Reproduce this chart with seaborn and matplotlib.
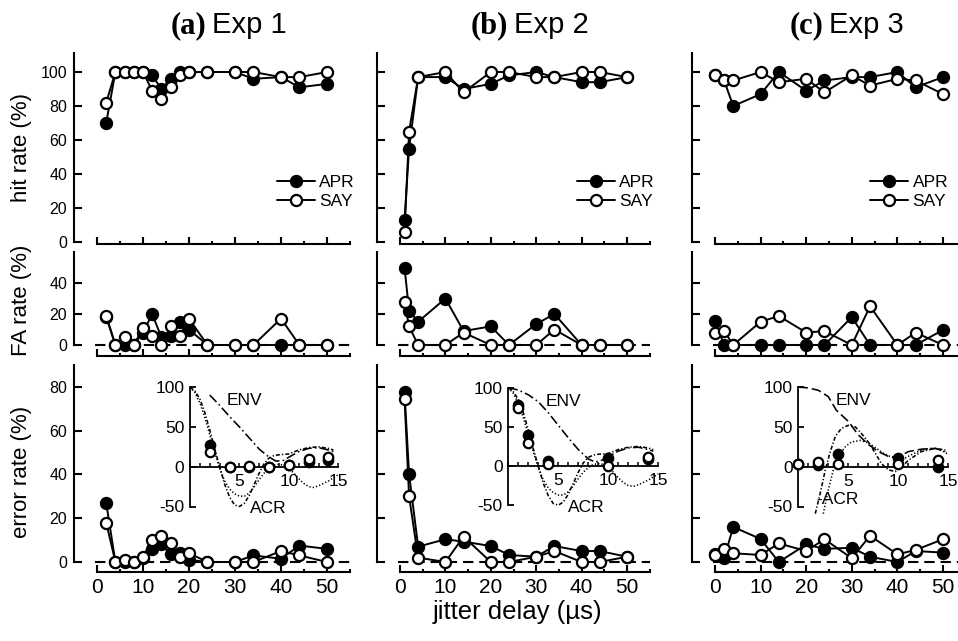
import matplotlib
matplotlib.use('Agg')
import matplotlib.pyplot as plt
import matplotlib.transforms as mtransforms
from matplotlib.ticker import FixedLocator, MultipleLocator
import seaborn as sns

# ---------------- data ----------------
x1 = [2, 4, 6, 8, 10, 12, 14, 16, 18, 20, 24, 30, 34, 40, 44, 50]
hit1_apr = [70, 100, 100, 100, 100, 98, 90, 96, 100, 100, 100, 100, 96, 97, 91, 93]
hit1_say = [82, 100, 100, 100, 100, 89, 84, 91, 98, 100, 100, 100, 100, 97, 97, 100]
fa1_apr = [18, 0, 0, 0, 8, 20, 5, 6, 15, 10, 0, 0, 0, 0, 0, 0]
fa1_say = [19, 0, 5, 0, 11, 6, 0, 12, 6, 17, 0, 0, 0, 17, 0, 0]
err1_apr = [27, 0, 0, 0, 2, 6, 8, 3.5, 4, 1, 0, 0, 3, 1.5, 7.5, 6]
err1_say = [18, 0, 1, 0, 2.5, 10, 12, 8.5, 2.5, 4, 0, 0, 0, 5, 3, 0]

x2 = [1, 2, 4, 10, 14, 20, 24, 30, 34, 40, 44, 50]
hit2_apr = [13, 55, 97, 97, 90, 93, 98, 100, 97, 94, 94, 97]
hit2_say = [6, 65, 97, 100, 88, 100, 100, 97, 97, 100, 100, 97]
fa2_apr = [50, 22, 15, 30, 9, 12, 0, 13.5, 20, 0, 0, 0]
fa2_say = [27.5, 12, 0, 0, 8, 0, 0, 0, 10, 0, 0, 0]
err2_apr = [77.5, 40, 7, 10.4, 9.3, 7.3, 3.2, 2.4, 7.3, 5, 5, 2.4]
err2_say = [74.5, 30, 2, 0, 11.6, 0, 0, 2.4, 5, 0, 0, 2.4]

x3 = [0, 2, 4, 10, 14, 20, 24, 30, 34, 40, 44, 50]
hit3_apr = [98, 95, 80, 87, 100, 89, 95, 97, 97, 100, 91, 97]
hit3_say = [98, 95, 95, 100, 94, 96, 88, 98, 92, 96, 95, 87]
fa3_apr = [15.5, 0, 0, 0, 0, 0, 0, 18, 0, 0, 0, 9.7]
fa3_say = [8, 9, 0, 15, 18.7, 8, 9, 0, 25, 0, 8, 0]
err3_apr = [3.5, 1.7, 16, 10.5, 0, 8, 6, 6.5, 2.4, 0, 5, 4.3]
err3_say = [3, 6, 4, 3.2, 8.5, 5, 10.4, 1.7, 12, 3.5, 5.5, 10.4]

# inset curves
env_a_x = [2, 3, 4, 5, 6, 7, 8, 8.7, 9.5, 10, 11, 12, 13, 14, 14.5]
env_a_y = [90, 77, 63, 50, 36, 22, 12, 7, 8, 12, 19, 23, 24, 21, 19]
env_b_x = [0, 1, 2, 3, 4, 5, 6, 7, 8, 8.7, 9.5, 10, 11, 12, 13, 14, 14.5]
env_b_y = [100, 97, 91, 82, 68, 52, 36, 21, 9, 5, 8, 12, 19, 23, 24, 21, 19]
acr1_x = [0, 0.5, 1, 1.5, 2, 2.5, 3, 3.5, 4, 4.5, 5, 5.5, 6, 6.5, 7, 7.5, 8, 8.5,
          9, 10, 11, 12, 13, 14, 14.5]
acr1_y = [100, 95, 85, 68, 46, 22, 0, -22, -38, -48, -50, -46, -36, -22, -8, 4, 11, 14,
          15, 16, 21, 24, 25, 23, 21]
acr2_x = [0, 0.5, 1, 1.5, 2, 2.5, 3, 3.5, 4, 4.5, 5, 5.5, 6, 6.5, 7, 7.5, 8, 8.5, 9,
          9.5, 10, 10.5, 11, 11.5, 12, 12.5, 13, 13.5, 14, 14.5, 15]
acr2_y = [100, 93, 80, 62, 40, 18, -2, -18, -28, -34, -37, -37, -33, -25, -16, -8, -2, 2, 3,
          2, -2, -8, -15, -21, -25, -26, -24, -21, -18, -14, -10]
env_c_x = [0, 1, 2, 3, 3.8, 5, 6, 7, 8, 9, 10, 11, 12.3, 13.7, 14.7]
env_c_y = [100, 99, 96, 88, 71, 57, 40, 28, 19, 13, 12, 19, 22, 23, 19]
nacr1_x = [1.7, 2.2, 2.7, 3.2, 3.7, 4.3, 5, 5.7, 6.3, 7, 7.7, 8.3, 9, 9.7, 10.3, 11,
           12.3, 13.7, 14.7]
nacr1_y = [-59, -33, -4, 19, 38, 48, 52, 50, 42, 31, 17, 4, -4, -6, -1, 8, 19, 23, 21]
nacr2_x = [2.5, 3, 3.5, 4, 4.7, 5.3, 6.2, 7, 7.7, 8.5, 9.3, 10, 10.7, 11.3, 12, 12.7,
           13.3, 14, 14.7, 15]
nacr2_y = [-59, -29, -4, 13, 25, 31, 33, 30, 24, 17, 12, 10, 11, 15, 19, 22, 23, 22, 18, 15]

panel_letters = ['(a)', '(b)', '(c)']
panel_titles = ['Exp 1', 'Exp 2', 'Exp 3']
row_labels = ['hit rate (%)', 'FA rate (%)', 'error rate (%)']
xlabel = 'jitter delay (\u00b5s)'

# ---------------- style ----------------
sns.set_theme(style='ticks', rc={
    'text.color': 'black', 'axes.labelcolor': 'black',
    'xtick.color': 'black', 'ytick.color': 'black',
    'axes.edgecolor': 'black', 'axes.unicode_minus': False})
plt.rcParams['font.family'] = ['Liberation Sans', 'DejaVu Sans']
plt.rcParams['axes.unicode_minus'] = False

W, H = 958, 641
fig = plt.figure(figsize=(W / 100, H / 100), dpi=100)
fig.patch.set_facecolor('white')


def px_axes(left, top, right, bottom):
    return fig.add_axes([left / W, 1 - bottom / H, (right - left) / W, (bottom - top) / H])


XL = (-5, 56)
cols = [(97, 4.6), (400, 4.54), (715, 4.56)]
rows = [(242, 1.7, (-1, 111), [0, 20, 40, 60, 80, 100]),
        (345, 1.55, (-6.8, 60), [0, 20, 40]),
        (562, 2.19, (-4.7, 90), [0, 20, 40, 60, 80])]

data = [
    [(hit1_apr, hit1_say), (fa1_apr, fa1_say), (err1_apr, err1_say)],
    [(hit2_apr, hit2_say), (fa2_apr, fa2_say), (err2_apr, err2_say)],
    [(hit3_apr, hit3_say), (fa3_apr, fa3_say), (err3_apr, err3_say)],
]
xs = [x1, x2, x3]

MS, MEW, LW = 8.0, 1.6, 1.4


def series(ax, x, y, filled, ms=MS, line=True, label=None, z=3):
    sns.lineplot(x=x, y=y, ax=ax, color='black', marker='o', markersize=ms,
                 markerfacecolor='black' if filled else 'white',
                 markeredgecolor='black', markeredgewidth=MEW,
                 linewidth=LW if line else 0, linestyle='-' if line else 'none',
                 estimator=None, sort=False, label=label, zorder=z, clip_on=False)
    return ax.lines[-1]


top_axes = []
for ci, (x0, sx) in enumerate(cols):
    for ri, (y0, sy, yl, yt) in enumerate(rows):
        left = x0 + XL[0] * sx
        right = x0 + XL[1] * sx
        top = y0 - yl[1] * sy
        bottom = y0 - yl[0] * sy
        ax = px_axes(left, top, right, bottom)
        ax.set_facecolor('none')
        apr, say = data[ci][ri]
        if ri > 0:
            ax.axhline(0, xmin=(-0.5 - XL[0]) / (XL[1] - XL[0]),
                       xmax=(55 - XL[0]) / (XL[1] - XL[0]),
                       color='black', lw=1.5, ls=(0, (5, 2.8)), zorder=1)
        h1 = series(ax, xs[ci], apr, True, label='APR', z=3)
        h2 = series(ax, xs[ci], say, False, label='SAY', z=4)
        ax.set_xlim(*XL)
        ax.set_ylim(*yl)
        for s in ['top', 'right']:
            ax.spines[s].set_visible(False)
        ax.spines['left'].set_bounds(0, yl[1])
        ax.spines['bottom'].set_bounds(0, 55)
        for s in ['left', 'bottom']:
            ax.spines[s].set_linewidth(1.5)
        ax.set_xticks([0, 10, 20, 30, 40, 50])
        ax.xaxis.set_minor_locator(FixedLocator([5, 15, 25, 35, 45, 55]))
        ax.set_yticks(yt)
        ax.tick_params(axis='x', which='major', direction='in', length=5, width=1.5,
                       pad=4, labelsize=15)
        ax.tick_params(axis='x', which='minor', direction='in', length=2.5, width=1.5)
        ax.tick_params(axis='y', direction='in', length=6, width=1.5, pad=5,
                       labelsize=11.5)
        if ci > 0:
            ax.set_yticklabels([])
        if ri < 2:
            ax.set_xticklabels([])
        ax.set_xlabel('')
        ax.set_ylabel('')
        if ri == 0:
            top_axes.append(ax)
            lx = [276.7, 576.7, 870][ci]
            leg = ax.legend(handles=[h1, h2], labels=['APR', 'SAY'], loc='center left',
                            bbox_to_anchor=(lx / W, 1 - 192 / H),
                            bbox_transform=fig.transFigure, frameon=False, fontsize=12.5,
                            handlelength=2.2, handletextpad=0.25, borderpad=0,
                            borderaxespad=0, labelspacing=0.22, numpoints=1)
        else:
            lg = ax.get_legend()
            if lg is not None:
                lg.remove()

# ---------------- insets ----------------
insets = [(190, 9.89, 466.7, 0.796), (508.3, 10.0, 466.0, 0.783), (798.3, 10.0, 466.7, 0.796)]
curves = [
    [(env_a_x, env_a_y, (0, (6, 2, 1, 2))), (acr1_x, acr1_y, (0, (2.5, 1.3, 0.8, 1.3))),
     (acr2_x, acr2_y, (0, (0.8, 1.3)))],
    [(env_b_x, env_b_y, (0, (6, 2, 1, 2))), (acr1_x, acr1_y, (0, (2.5, 1.3, 0.8, 1.3))),
     (acr2_x, acr2_y, (0, (0.8, 1.3)))],
    [(env_c_x, env_c_y, (0, (6, 2.5))), (nacr1_x, nacr1_y, (0, (2.5, 1.3, 0.8, 1.3))),
     (nacr2_x, nacr2_y, (0, (0.8, 1.3)))],
]
acr_labels = ['ACR', 'ACR', '-ACR']
acr_pos = [(6.1, -52), (6.0, -53), (1.8, -41)]
for ci, (x0, sx, y0, sy) in enumerate(insets):
    xl = (0, 15.6)
    yl = (-60, 103)
    ins = px_axes(x0 + xl[0] * sx, y0 - yl[1] * sy, x0 + xl[1] * sx, y0 - yl[0] * sy)
    ins.set_facecolor('none')
    for cx, cy, ls in curves[ci]:
        sns.lineplot(x=cx, y=cy, ax=ins, color='black', linewidth=1.15, linestyle=ls,
                     estimator=None, sort=False, zorder=2)
    xi = [v for v in xs[ci] if v <= 15]
    n = len(xi)
    apr, say = data[ci][2]
    series(ins, xi, apr[:n], True, ms=6.8, line=False, z=3)
    series(ins, xi, say[:n], False, ms=6.8, line=False, z=4)
    ins.set_xlim(*xl)
    ins.set_ylim(*yl)
    for s in ['top', 'right']:
        ins.spines[s].set_visible(False)
    ins.spines['bottom'].set_position(('data', 0))
    ins.spines['bottom'].set_bounds(0, 15)
    ins.spines['left'].set_bounds(-50, 100)
    ins.spines['left'].set_linewidth(1.3)
    ins.spines['bottom'].set_linewidth(1.3)
    ins.set_xticks([5, 10, 15])
    ins.xaxis.set_minor_locator(MultipleLocator(1))
    ins.set_yticks([-50, 0, 50, 100])
    ins.tick_params(axis='x', which='both', direction='in', length=3, width=1.1, pad=5,
                    labelsize=12.5)
    ins.tick_params(axis='y', direction='in', length=4, width=1.3, pad=4, labelsize=12.5)
    ins.set_xlabel('')
    ins.set_ylabel('')
    lg = ins.get_legend()
    if lg is not None:
        lg.remove()
    ins.text(3.7, 83, 'ENV', ha='left', va='center', fontsize=12.5)
    ins.text(acr_pos[ci][0], acr_pos[ci][1], acr_labels[ci], ha='left', va='center',
             fontsize=12.5)

# ---------------- titles and labels ----------------
for ax, let, ttl in zip(top_axes, panel_letters, panel_titles):
    trans = mtransforms.blended_transform_factory(ax.transData, fig.transFigure)
    t1 = mtransforms.offset_copy(trans, fig=fig, x=-17, y=0, units='dots')
    t2 = mtransforms.offset_copy(trans, fig=fig, x=-11, y=0, units='dots')
    ax.text(27.5, 1 - 33 / H, let, transform=t1, ha='right', va='baseline',
            fontfamily=['Liberation Serif', 'DejaVu Serif'], fontweight='bold', fontsize=22)
    ax.text(27.5, 1 - 33 / H, ttl, transform=t2, ha='left', va='baseline', fontsize=21)

for lab, yc in zip(row_labels, [148, 300, 472]):
    fig.text(22 / W, 1 - yc / H, lab, rotation=90, ha='center', va='center', fontsize=16)
fig.text(517 / W, 1 - 612 / H, xlabel, ha='center', va='center', fontsize=18.5)

fig.savefig('out.png', dpi=100, facecolor='white')
